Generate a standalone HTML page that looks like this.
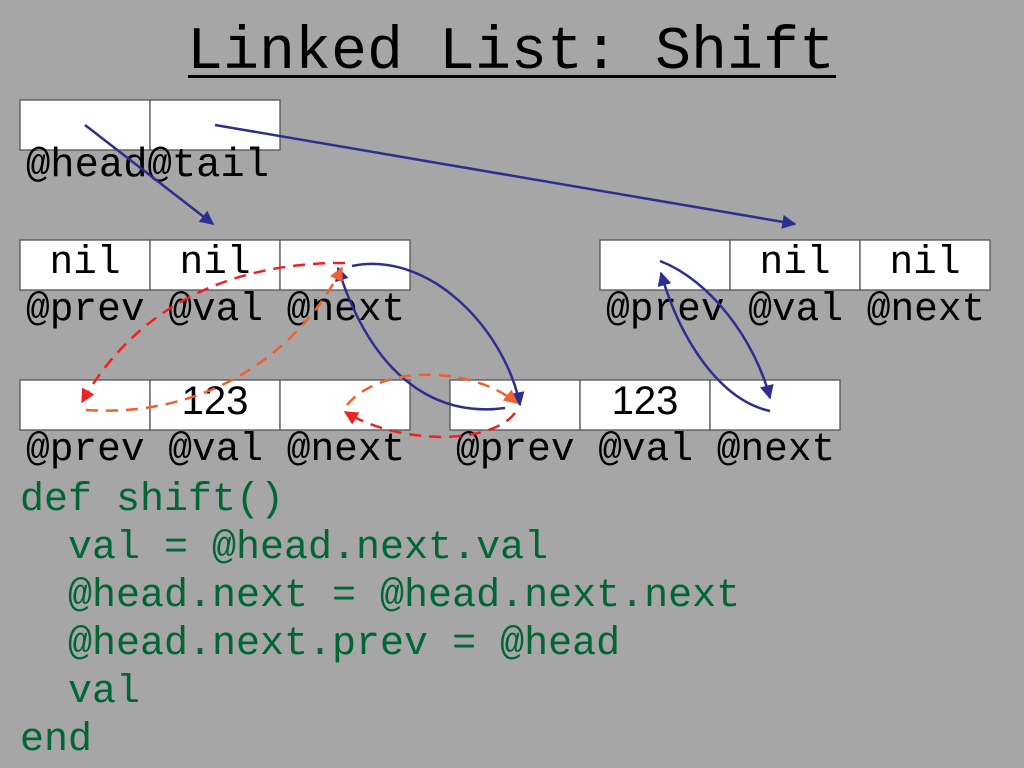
<!DOCTYPE html>
<html><head><meta charset="utf-8"><style>
html,body{margin:0;padding:0;background:#a6a6a6;}
svg{display:block;}
.m{font-family:"Liberation Mono","DejaVu Sans Mono",monospace;white-space:pre;}
</style></head><body>
<svg width="1024" height="768" viewBox="0 0 1024 768" xmlns="http://www.w3.org/2000/svg" xml:space="preserve">
<defs>
<marker id="ab" viewBox="0 0 10 10" refX="9" refY="5" markerWidth="15" markerHeight="14" orient="auto" markerUnits="userSpaceOnUse"><path d="M0,0 L10,5 L0,10 z" fill="#2e2e8f"/></marker>
<marker id="ar" viewBox="0 0 10 10" refX="9" refY="5" markerWidth="15" markerHeight="14" orient="auto" markerUnits="userSpaceOnUse"><path d="M0,0 L10,5 L0,10 z" fill="#ee2222"/></marker>
<marker id="ao" viewBox="0 0 10 10" refX="9" refY="5" markerWidth="15" markerHeight="14" orient="auto" markerUnits="userSpaceOnUse"><path d="M0,0 L10,5 L0,10 z" fill="#f06030"/></marker>
</defs>
<rect width="1024" height="768" fill="#a6a6a6"/>
<text class="m" x="511" y="68" font-size="60" text-anchor="middle" fill="#000">Linked List: Shift</text>
<rect x="188" y="75" width="648" height="3" fill="#000"/>

<g fill="#fff" stroke="#555" stroke-width="1.3">
<rect x="20" y="100" width="130" height="50"/><rect x="150" y="100" width="130" height="50"/>
<rect x="20" y="240" width="130" height="50"/><rect x="150" y="240" width="130" height="50"/><rect x="280" y="240" width="130" height="50"/>
<rect x="600" y="240" width="130" height="50"/><rect x="730" y="240" width="130" height="50"/><rect x="860" y="240" width="130" height="50"/>
<rect x="20" y="380" width="130" height="50"/><rect x="150" y="380" width="130" height="50"/><rect x="280" y="380" width="130" height="50"/>
<rect x="450" y="380" width="130" height="50"/><rect x="580" y="380" width="130" height="50"/><rect x="710" y="380" width="130" height="50"/>
</g>

<g class="m" font-size="39.5" fill="#000">
<text x="26" y="176" font-size="40.5">@head@tail</text>
<text x="26" y="320">@prev @val @next</text>
<text x="606" y="320">@prev @val @next</text>
<text x="26" y="460">@prev @val @next</text>
<text x="456" y="460">@prev @val @next</text>
<g text-anchor="middle">
<text x="85" y="273">nil</text><text x="215" y="273">nil</text>
<text x="795" y="273">nil</text><text x="925" y="273">nil</text>
</g>
</g>
<g font-family="Liberation Sans, sans-serif" font-size="40" fill="#000" text-anchor="middle">
<text x="215" y="414">123</text><text x="645" y="414">123</text>
</g>

<g fill="none" stroke-width="2.5">
<path d="M85,125 L213,224" stroke="#2e2e8f" marker-end="url(#ab)"/>
<path d="M215,125 L795,224" stroke="#2e2e8f" marker-end="url(#ab)"/>
<path d="M352,266 C430,250 505,330 520,405" stroke="#2e2e8f" marker-end="url(#ab)"/>
<path d="M505,408 C430,418 370,370 338,268" stroke="#2e2e8f" marker-end="url(#ab)"/>
<path d="M660,261 C710,280 755,340 770,398" stroke="#2e2e8f" marker-end="url(#ab)"/>
<path d="M770,411 C720,400 680,340 661,273" stroke="#2e2e8f" marker-end="url(#ab)"/>
<path d="M345,263 C240,262 140,300 82,402" stroke="#ee2222" stroke-dasharray="12,8" marker-end="url(#ar)"/>
<path d="M86,410 C210,418 300,350 342,268" stroke="#f06030" stroke-dasharray="12,8" marker-end="url(#ao)"/>
<path d="M347,405 C380,365 470,365 517,403" stroke="#f06030" stroke-dasharray="12,8" marker-end="url(#ao)"/>
<path d="M515,413 C490,445 400,445 345,412" stroke="#ee2222" stroke-dasharray="12,8" marker-end="url(#ar)"/>
</g>

<g class="m" font-size="40" fill="#006633">
<text x="20" y="510">def shift()</text>
<text x="68" y="558">val = @head.next.val</text>
<text x="68" y="606">@head.next = @head.next.next</text>
<text x="68" y="654">@head.next.prev = @head</text>
<text x="68" y="702">val</text>
<text x="20" y="750">end</text>
</g>
</svg>
</body></html>
